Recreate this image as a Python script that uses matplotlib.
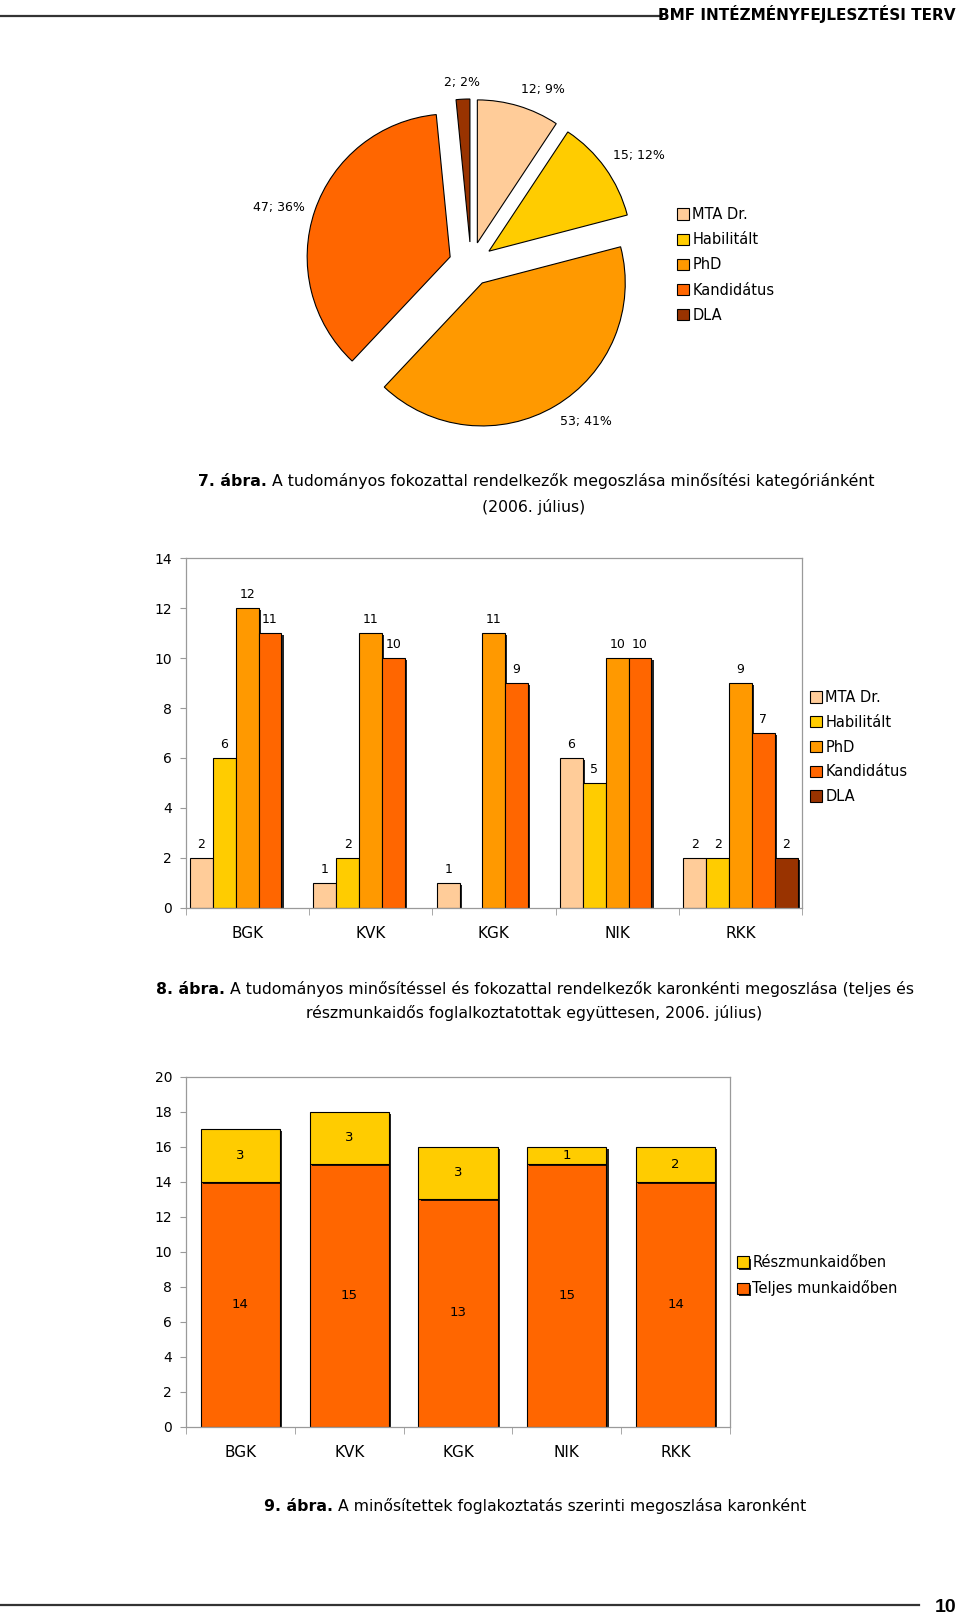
import numpy as np
import matplotlib
matplotlib.use('Agg')
import matplotlib.pyplot as plt
from matplotlib import patheffects
from matplotlib.lines import Line2D
from matplotlib.patches import Patch
from matplotlib.offsetbox import TextArea, HPacker, AnchoredOffsetbox

W, H = 960, 1616

# --- data ---
levels = ['MTA Dr.', 'Habilitált', 'PhD', 'Kandidátus', 'DLA']
level_totals = [12, 15, 53, 47, 2]
level_colors = ['#FFCC99', '#FFCC00', '#FF9900', '#FF6600', '#993300']

faculties = ['BGK', 'KVK', 'KGK', 'NIK', 'RKK']
mta = [2, 1, 1, 6, 2]
habil = [6, 2, 0, 5, 2]
phd = [12, 11, 11, 10, 9]
kand = [11, 10, 9, 10, 7]
dla = [0, 0, 0, 0, 2]

work_labels = ['Teljes munkaidőben', 'Részmunkaidőben']
work_colors = ['#FF6600', '#FFCC00']
full_time = [14, 15, 13, 15, 14]
part_time = [3, 3, 3, 1, 2]

plt.rcParams['font.family'] = ['DejaVu Sans']
axis_gray = '#9a9a9a'
cap_size = 11.35


def px_box(left, top, right, bottom):
    return [left / W, 1 - bottom / H, (right - left) / W, (bottom - top) / H]


def fx(x):
    return x / W


def fy(y):
    return 1 - y / H


fig = plt.figure(figsize=(W / 100, H / 100), dpi=100)


def caption(bold, rest, x, y):
    box = HPacker(children=[TextArea(bold, textprops=dict(fontsize=cap_size, fontweight='bold')),
                            TextArea(rest, textprops=dict(fontsize=cap_size))],
                  sep=0, align='baseline', pad=0)
    ab = AnchoredOffsetbox(loc='center', child=box, bbox_to_anchor=(fx(x), fy(y)),
                           bbox_transform=fig.transFigure, frameon=False, pad=0, borderpad=0)
    fig.add_artist(ab)


def legend_at(handles, labels, left, top, spacing=0.7):
    fig.legend(handles, labels, loc='upper left', bbox_to_anchor=(fx(left), fy(top)),
               bbox_transform=fig.transFigure, frameon=False, fontsize=10.5, borderpad=0,
               borderaxespad=0, handlelength=0.8, handleheight=0.8, handletextpad=0.25,
               labelspacing=spacing)


# header / footer
fig.add_artist(Line2D([0, fx(662)], [fy(15.5), fy(15.5)], transform=fig.transFigure, color='#333333', lw=1.6))
fig.text(fx(956), fy(14), 'BMF INTÉZMÉNYFEJLESZTÉSI TERV', ha='right', va='center',
         fontsize=11, fontweight='bold')
fig.add_artist(Line2D([0, fx(919)], [fy(1605), fy(1605)], transform=fig.transFigure, color='#333333', lw=1.6))
fig.text(fx(956), fy(1607), '10', ha='right', va='center', fontsize=14, fontweight='bold',
         family=['Liberation Sans', 'DejaVu Sans'])

# --- 7. abra: pie ---
ax1 = fig.add_axes(px_box(471 - 214.5, 264 - 214.5, 471 + 214.5, 264 + 214.5))
total = sum(level_totals)
pie_labels = [f'{v}; {round(100 * v / total)}%' for v in level_totals]
wedges, texts = ax1.pie(level_totals, colors=level_colors, explode=[0.154] * len(level_totals),
                        startangle=90, counterclock=False, labels=pie_labels, labeldistance=1.07,
                        wedgeprops=dict(edgecolor='black', linewidth=0.8),
                        textprops=dict(fontsize=9))
for t in texts:
    lx, ly = t.get_position()
    r = np.hypot(lx, ly)
    if abs(lx) < 0.2 * r:
        t.set_ha('center')
    if abs(ly) < 0.45 * r:
        t.set_va('center')
    else:
        t.set_va('bottom' if ly > 0 else 'top')
ax1.set_xlim(-1.5, 1.5)
ax1.set_ylim(-1.5, 1.5)
ax1.set_aspect('equal')
ax1.axis('off')
legend_at(wedges, levels, 677, 207)

caption('7. ábra.', ' A tudományos fokozattal rendelkezők megoszlása minősítési kategóriánként', 536, 481)
fig.text(fx(534), fy(507), '(2006. július)', ha='center', va='center', fontsize=cap_size)

shadow = [patheffects.SimplePatchShadow(offset=(1.6, -1.6), shadow_rgbFace='black', alpha=0.85),
          patheffects.Normal()]


def style_axes(ax):
    for s in ax.spines.values():
        s.set_color(axis_gray)
        s.set_linewidth(0.9)
    ax.tick_params(axis='y', direction='out', length=4, color=axis_gray, labelsize=10, pad=6)
    ax.tick_params(axis='x', which='major', length=0, labelsize=11, pad=13)
    ax.tick_params(axis='x', which='minor', direction='out', length=5, color=axis_gray)
    ax.set_xticks(np.arange(-0.5, len(faculties), 1), minor=True)


# --- 8. abra: grouped bars ---
ax2 = fig.add_axes(px_box(185.5, 558.3, 802.2, 907.7))
x = np.arange(len(faculties))
series = [mta, habil, phd, kand, dla]
bw = 0.185
for i, (name, vals, col) in enumerate(zip(levels, series, level_colors)):
    bars = ax2.bar(x + (i - 2) * bw, vals, bw, color=col, edgecolor='black', linewidth=0.8,
                   label=name)
    for b, v in zip(bars, vals):
        b.set_path_effects(shadow)
        if v == 0:
            b.set_visible(False)
    ax2.bar_label(bars, labels=[str(v) if v else '' for v in vals], padding=5, fontsize=9)
ax2.set_xlim(-0.5, len(faculties) - 0.5)
ax2.set_ylim(0, 14)
ax2.set_yticks(range(0, 15, 2))
ax2.set_xticks(x, faculties)
style_axes(ax2)
level_handles = [Patch(facecolor=c, edgecolor='black', linewidth=0.8) for c in level_colors]
legend_at(level_handles, levels, 810, 690, spacing=0.67)

caption('8. ábra.', ' A tudományos minősítéssel és fokozattal rendelkezők karonkénti megoszlása (teljes és',
        535, 989)
fig.text(fx(534), fy(1013), 'részmunkaidős foglalkoztatottak együttesen, 2006. július)',
         ha='center', va='center', fontsize=cap_size)

# --- 9. abra: stacked bars ---
ax3 = fig.add_axes(px_box(186, 1076.7, 730, 1426.7))
bw3 = 0.727
b_full = ax3.bar(x, full_time, bw3, color=work_colors[0], edgecolor='black', linewidth=0.8,
                 label=work_labels[0])
b_part = ax3.bar(x, part_time, bw3, bottom=full_time, color=work_colors[1], edgecolor='black',
                 linewidth=0.8, label=work_labels[1])
for b in list(b_full) + list(b_part):
    b.set_path_effects(shadow)
ax3.bar_label(b_full, label_type='center', fontsize=9.5)
ax3.bar_label(b_part, label_type='center', fontsize=9.5)
ax3.set_xlim(-0.5, len(faculties) - 0.5)
ax3.set_ylim(0, 20)
ax3.set_yticks(range(0, 21, 2))
ax3.set_xticks(x, faculties)
style_axes(ax3)
legend_at([b_part, b_full], [work_labels[1], work_labels[0]], 737, 1255)

caption('9. ábra.', ' A minősítettek foglakoztatás szerinti megoszlása karonként', 535, 1506)

fig.savefig('out.png', dpi=100)
